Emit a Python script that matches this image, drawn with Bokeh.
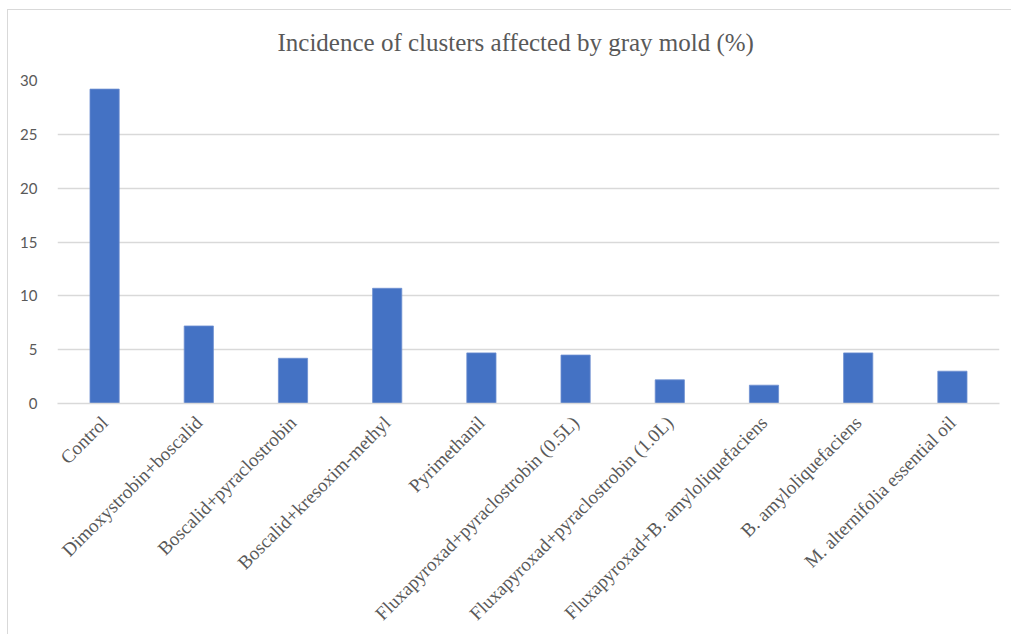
from bokeh.plotting import figure
from bokeh.models import Range1d, ColumnDataSource, FixedTicker
from bokeh.embed import file_html
from bokeh.resources import INLINE
import math

categories = [
    "Control",
    "Dimoxystrobin+boscalid",
    "Boscalid+pyraclostrobin",
    "Boscalid+kresoxim-methyl",
    "Pyrimethanil",
    "Fluxapyroxad+pyraclostrobin (0.5L)",
    "Fluxapyroxad+pyraclostrobin (1.0L)",
    "Fluxapyroxad+B. amyloliquefaciens",
    "B. amyloliquefaciens",
    "M. alternifolia essential oil",
]
incidence = [29.2, 7.2, 4.2, 10.7, 4.7, 4.5, 2.2, 1.7, 4.7, 3.0]
y_ticks = [0, 5, 10, 15, 20, 25, 30]
title_text = "Incidence of clusters affected by gray mold (%)"

src = ColumnDataSource(data=dict(cat=categories, val=incidence))

p = figure(
    x_range=categories,
    y_range=Range1d(0, 30),
    width=1011,
    height=634,
    output_backend="svg",
    toolbar_location=None,
    title=title_text,
    min_border_left=57,
    min_border_right=12,
    min_border_top=80,
    min_border_bottom=231,
)
p.styles = {
    "background-color": "white",
    "background-image": "linear-gradient(#d9d9d9, #d9d9d9), linear-gradient(#d9d9d9, #d9d9d9)",
    "background-position": "7px 9px, 7px 9px",
    "background-size": "100% 1px, 1px 100%",
    "background-repeat": "no-repeat, no-repeat",
}

p.vbar(x="cat", top="val", width=0.31, source=src, fill_color="#4472C4",
       line_color="#6d8fd0", line_width=0.8)

p.title.text_font = "Liberation Serif"
p.title.text_font_size = "25px"
p.title.text_font_style = "normal"
p.title.text_color = "#595959"
p.title.align = "left"
p.title.offset = 220
p.title.standoff = 50

p.outline_line_color = None
p.xgrid.grid_line_color = None
p.ygrid.grid_line_color = "#d9d9d9"
p.ygrid.grid_line_width = 1.3
p.ygrid.ticker = FixedTicker(ticks=y_ticks)

p.yaxis.ticker = FixedTicker(ticks=y_ticks)
p.yaxis.axis_line_color = None
p.yaxis.major_tick_line_color = None
p.yaxis.minor_tick_line_color = None
p.yaxis.major_label_text_font = "Lato"
p.yaxis.major_label_text_font_size = "15px"
p.yaxis.major_label_text_color = "#595959"
p.yaxis.major_label_standoff = 14

p.xaxis.axis_line_color = "#d9d9d9"
p.xaxis.axis_line_width = 1.3
p.xaxis.major_tick_line_color = None
p.xaxis.minor_tick_line_color = None
p.xaxis.major_label_orientation = math.pi / 4
p.xaxis.major_label_text_font = "Liberation Serif"
p.xaxis.major_label_text_font_size = "19px"
p.xaxis.major_label_text_color = "#595959"
p.xaxis.major_label_standoff = 10

p.background_fill_color = "white"
p.border_fill_color = None

open("out.html", "w").write(file_html(p, INLINE))
